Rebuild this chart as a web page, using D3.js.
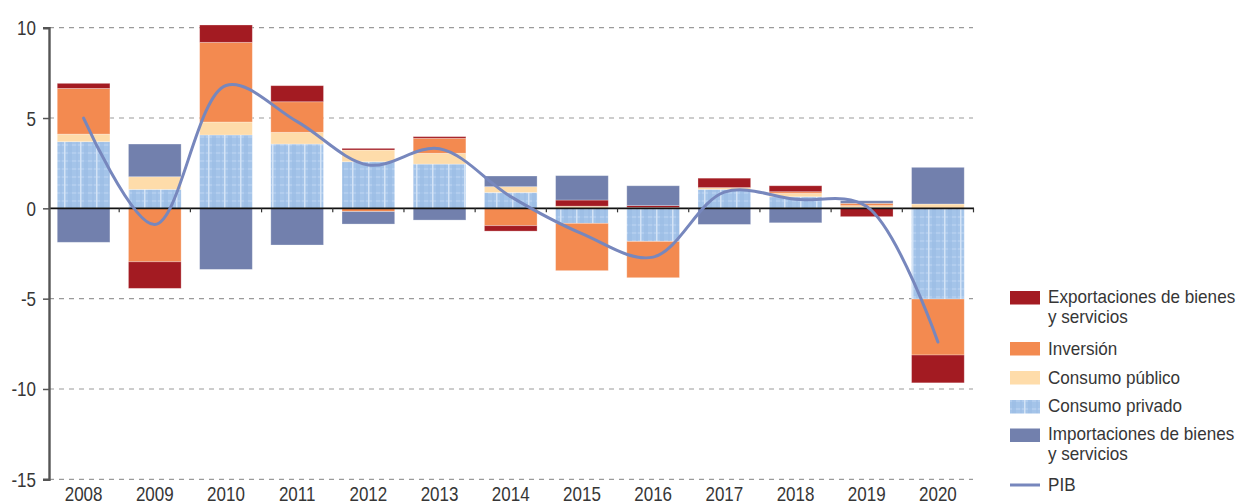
<!DOCTYPE html>
<html>
<head>
<meta charset="utf-8">
<script src="https://cdn.jsdelivr.net/npm/d3@7/dist/d3.min.js"></script>
<style>
  html, body { margin: 0; padding: 0; background: #fff; }
  svg { display: block; }
  text { font-family: "Liberation Sans", Arial, sans-serif; fill: #363636; }
</style>
</head>
<body>
<svg id="chart" width="1239" height="504"></svg>
<script>
// ---------- DATA ----------
const years = ["2008","2009","2010","2011","2012","2013","2014","2015","2016","2017","2018","2019","2020"];
const consumoPrivado = [3.69, 1.05, 4.06, 3.56, 2.58, 2.45, 0.88, -0.83, -1.83, 1.05, 0.64, 0.05, -5.02];
const consumoPublico = [0.42, 0.70, 0.72, 0.65, 0.65, 0.60, 0.32, 0.12, 0.05, 0.10, 0.19, 0.10, 0.24];
const inversion      = [2.53, -2.96, 4.41, 1.69, -0.18, 0.83, -0.96, -2.62, -2.01, 0.00, 0.09, 0.13, -3.10];
const exportaciones  = [0.28, -1.47, 0.96, 0.89, 0.09, 0.09, -0.30, 0.34, 0.10, 0.52, 0.33, -0.46, -1.54];
const importaciones  = [-1.88, 1.81, -3.38, -2.03, -0.69, -0.65, 0.59, 1.35, 1.10, -0.89, -0.80, 0.14, 2.03];
const pib            = [5.0, -0.9, 6.8, 4.8, 2.4, 3.3, 0.65, -1.4, -2.7, 0.9, 0.5, 0.1, -7.4];
const yTicks = [10, 5, 0, -5, -10, -15];

const seriesKeys   = ["privado", "publico", "inversion", "export", "import"];
const seriesValues = { privado: consumoPrivado, publico: consumoPublico, inversion: inversion, export: exportaciones, import: importaciones };
const colors = { privado: "url(#privPattern)", publico: "#fedcaa", inversion: "#f38a50", export: "#a31b22", import: "#7280ad" };
const lineColor = "#7787bd";

const legendItems = [
  { key: "export",    lines: ["Exportaciones de bienes", "y servicios"] },
  { key: "inversion", lines: ["Inversión"] },
  { key: "publico",   lines: ["Consumo público"] },
  { key: "privado",   lines: ["Consumo privado"] },
  { key: "import",    lines: ["Importaciones de bienes", "y servicios"] },
  { key: "pib",       lines: ["PIB"] }
];

// ---------- LAYOUT ----------
const svg = d3.select("#chart");
const x = d3.scaleBand().domain(years).range([48, 973.5]).paddingInner(0.26).paddingOuter(0.13);
const y = d3.scaleLinear().domain([-15, 10]).range([479.3, 27.7]);
const axisX = 49;
const NARROW = 0.85;

// condensed text helper (horizontal squeeze of a regular sans)
function ntext(parent, tx, ty, lines, size, anchor, sx, lineGap) {
  const t = parent.append("text")
    .attr("transform", `translate(${tx},${ty}) scale(${sx || NARROW},1)`)
    .attr("font-size", size).attr("text-anchor", anchor || "start");
  const arr = Array.isArray(lines) ? lines : [lines];
  arr.forEach((s, j) => {
    t.append("tspan").attr("x", 0).attr("y", j * (lineGap || 0)).text(s);
  });
  return t;
}

// pattern for consumo privado
const defs = svg.append("defs");
const pat = defs.append("pattern").attr("id", "privPattern").attr("patternUnits", "userSpaceOnUse")
  .attr("width", 16).attr("height", 8);
pat.append("rect").attr("width", 16).attr("height", 8).attr("fill", "#a4c4e9");
pat.append("rect").attr("x", 0).attr("y", 0).attr("width", 16).attr("height", 2).attr("fill", "#b2cdee");
pat.append("rect").attr("x", 4).attr("y", 0).attr("width", 4).attr("height", 8).attr("fill", "#9cbee6").attr("opacity", 0.7);
pat.append("rect").attr("x", 12).attr("y", 0).attr("width", 2).attr("height", 8).attr("fill", "#9cbee6").attr("opacity", 0.6);
pat.append("rect").attr("x", 0).attr("y", 0).attr("width", 1.5).attr("height", 8).attr("fill", "#d3e3f6");

// gridlines
svg.append("g").selectAll("line").data(yTicks.filter(d => d !== 0)).join("line")
  .attr("x1", axisX).attr("x2", 973)
  .attr("y1", d => y(d)).attr("y2", d => y(d))
  .attr("stroke", "#9a9a9a").attr("stroke-width", 1.2).attr("stroke-dasharray", "5,5");

// stacked bars
const table = years.map((yr, i) => {
  const row = { year: yr };
  seriesKeys.forEach(k => row[k] = seriesValues[k][i]);
  return row;
});
const stack = d3.stack().keys(seriesKeys).offset(d3.stackOffsetDiverging)(table);

svg.append("g").selectAll("g").data(stack).join("g")
  .attr("fill", d => colors[d.key])
  .selectAll("rect").data(d => d).join("rect")
  .attr("x", d => x(d.data.year))
  .attr("width", x.bandwidth())
  .attr("y", d => y(Math.max(d[0], d[1])))
  .attr("height", d => Math.abs(y(d[0]) - y(d[1])))
  .attr("stroke", "rgba(255,255,255,0.35)").attr("stroke-width", 0.8);

// zero line
svg.append("line").attr("x1", axisX).attr("x2", 974).attr("y1", y(0)).attr("y2", y(0))
  .attr("stroke", "#111").attr("stroke-width", 1.6);
// x category boundary ticks
const step = x.step();
svg.append("g").selectAll("line").data(years.map((d, i) => 48 + step * (i + 1))).join("line")
  .attr("x1", d => d).attr("x2", d => d).attr("y1", y(0)).attr("y2", y(0) + 4)
  .attr("stroke", "#333").attr("stroke-width", 1.2);

// y axis (domain + ticks from d3, labels squeezed)
const yAxis = d3.axisLeft(y).tickValues(yTicks).tickSize(6).tickFormat("");
const gy = svg.append("g").attr("transform", `translate(${axisX},0)`).call(yAxis);
gy.select(".domain").attr("stroke", "#555").attr("stroke-width", 2.4);
gy.selectAll(".tick line").attr("stroke", "#555").attr("stroke-width", 1.5);
gy.selectAll(".tick").each(function(d) {
  ntext(d3.select(this), -13, 7, String(d), 20, "end");
});

// x labels
const xAxis = d3.axisBottom(x).tickSize(0).tickFormat("");
const gx = svg.append("g").call(xAxis);
gx.select(".domain").remove();
gx.selectAll(".tick").each(function(d) {
  ntext(d3.select(this), 0, 500.5, d, 20, "middle");
});

// PIB line
const line = d3.line()
  .x((d, i) => x(years[i]) + x.bandwidth() / 2)
  .y(d => y(d))
  .curve(d3.curveCatmullRom.alpha(0.5));
svg.append("path").datum(pib).attr("d", line)
  .attr("fill", "none").attr("stroke", lineColor).attr("stroke-width", 3).attr("stroke-linecap", "round");

// legend
const lg = svg.append("g");
const legendRows = [
  { item: legendItems[0], swatchY: 291, baseline: 302.5 },
  { item: legendItems[1], swatchY: 342, baseline: 355 },
  { item: legendItems[2], swatchY: 371, baseline: 383.5 },
  { item: legendItems[3], swatchY: 400, baseline: 412 },
  { item: legendItems[4], swatchY: 428.5, baseline: 439.5 },
  { item: legendItems[5], swatchY: 485, baseline: 490.5 }
];
legendRows.forEach(r => {
  if (r.item.key === "pib") {
    lg.append("line").attr("x1", 1010).attr("x2", 1040).attr("y1", r.swatchY).attr("y2", r.swatchY)
      .attr("stroke", lineColor).attr("stroke-width", 3);
  } else {
    lg.append("rect").attr("x", 1010).attr("y", r.swatchY).attr("width", 30).attr("height", 13.5)
      .attr("fill", colors[r.item.key]);
  }
  ntext(lg, 1048, r.baseline, r.item.lines, 18, "start", 0.95, 20.2);
});
</script>
</body>
</html>
